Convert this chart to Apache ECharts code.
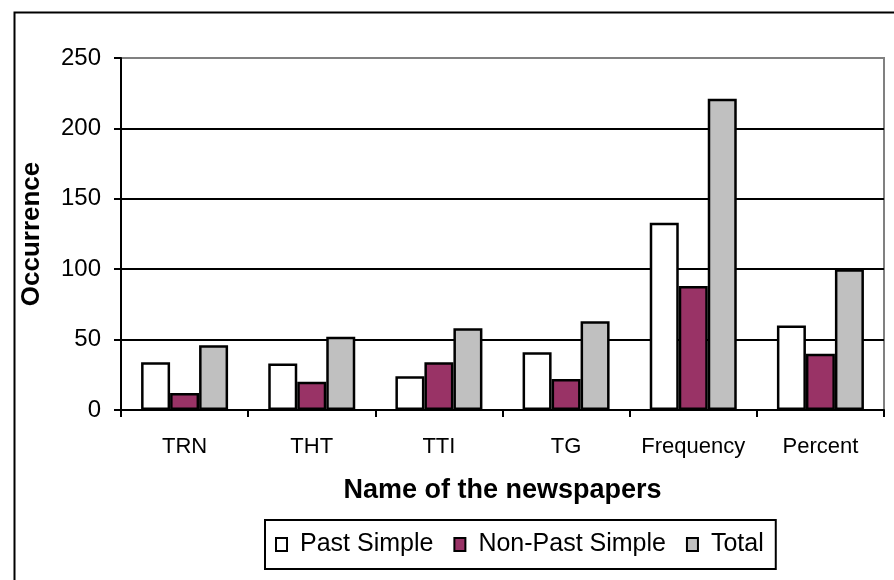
<!DOCTYPE html>
<html>
<head>
<meta charset="utf-8">
<script src="https://cdn.jsdelivr.net/npm/echarts@6/dist/echarts.min.js"></script>
<style>html,body{margin:0;padding:0;background:#fff;}#c{width:894px;height:580px;}</style>
</head>
<body>
<div id="c"></div>
<script>
const categories = ['TRN', 'THT', 'TTI', 'TG', 'Frequency', 'Percent'];
const pastSimple = [34, 33, 24, 41, 133, 60];
const nonPastSimple = [12, 20, 34, 22, 88, 40];
const total = [46, 52, 58, 63, 221, 100];
const yTicks = [0, 50, 100, 150, 200, 250];

const FONT = "'Liberation Sans', Arial, sans-serif";
const chart = echarts.init(document.getElementById('c'), null, {renderer: 'canvas'});
const barStyle = (c) => ({color: c, borderColor: '#000', borderWidth: 2.5});
chart.setOption({
  animation: false,
  backgroundColor: '#fff',
  textStyle: {fontFamily: FONT},
  graphic: [{
    type: 'rect', left: 12, top: 10, z: 100,
    shape: {x: 0, y: 0, width: 900, height: 600},
    style: {fill: 'none', stroke: '#000', lineWidth: 2}
  }],
  grid: {left: 121, right: 10, top: 58, bottom: 170, show: true, borderColor: '#808080', borderWidth: 2, containLabel: false},
  legend: {
    left: 265, top: 520,
    padding: [12, 12, 12, 10],
    borderColor: '#000', borderWidth: 2,
    icon: 'rect',
    itemWidth: 11, itemHeight: 13, itemGap: 20,
    textStyle: {fontFamily: FONT, fontSize: 25, color: '#000', padding: [0, 0, 0, 8]},
    data: ['Past Simple', 'Non-Past Simple', 'Total']
  },
  xAxis: {
    type: 'category', data: categories,
    name: 'Name of the newspapers', nameLocation: 'middle', nameGap: 67,
    nameTextStyle: {fontFamily: FONT, fontSize: 27, fontWeight: 'bold', color: '#000'},
    axisLine: {lineStyle: {color: '#000', width: 2}},
    axisTick: {show: true, interval: 0, length: 7, lineStyle: {color: '#000', width: 2}},
    axisLabel: {interval: 0, fontFamily: FONT, fontSize: 22, color: '#000', margin: 26},
    splitLine: {show: false}
  },
  yAxis: {
    type: 'value', min: yTicks[0], max: yTicks[yTicks.length - 1], interval: 50,
    name: 'Occurrence', nameLocation: 'middle', nameGap: 76,
    nameTextStyle: {fontFamily: FONT, fontSize: 26, fontWeight: 'bold', color: '#000'},
    axisLine: {show: true, lineStyle: {color: '#000', width: 2}},
    axisTick: {show: true, length: 7, lineStyle: {color: '#000', width: 2}},
    axisLabel: {fontFamily: FONT, fontSize: 24, color: '#000', margin: 20},
    splitLine: {show: true, lineStyle: {color: ['#000', '#000', '#000', '#000', '#000', '#808080'], width: 2}}
  },
  series: [
    {name: 'Past Simple', type: 'bar', data: pastSimple, barWidth: 29, barGap: '0%', itemStyle: barStyle('#ffffff')},
    {name: 'Non-Past Simple', type: 'bar', data: nonPastSimple, barWidth: 29, barGap: '0%', itemStyle: barStyle('#993366')},
    {name: 'Total', type: 'bar', data: total, barWidth: 29, barGap: '0%', itemStyle: barStyle('#c0c0c0')}
  ]
});
</script>
</body>
</html>
